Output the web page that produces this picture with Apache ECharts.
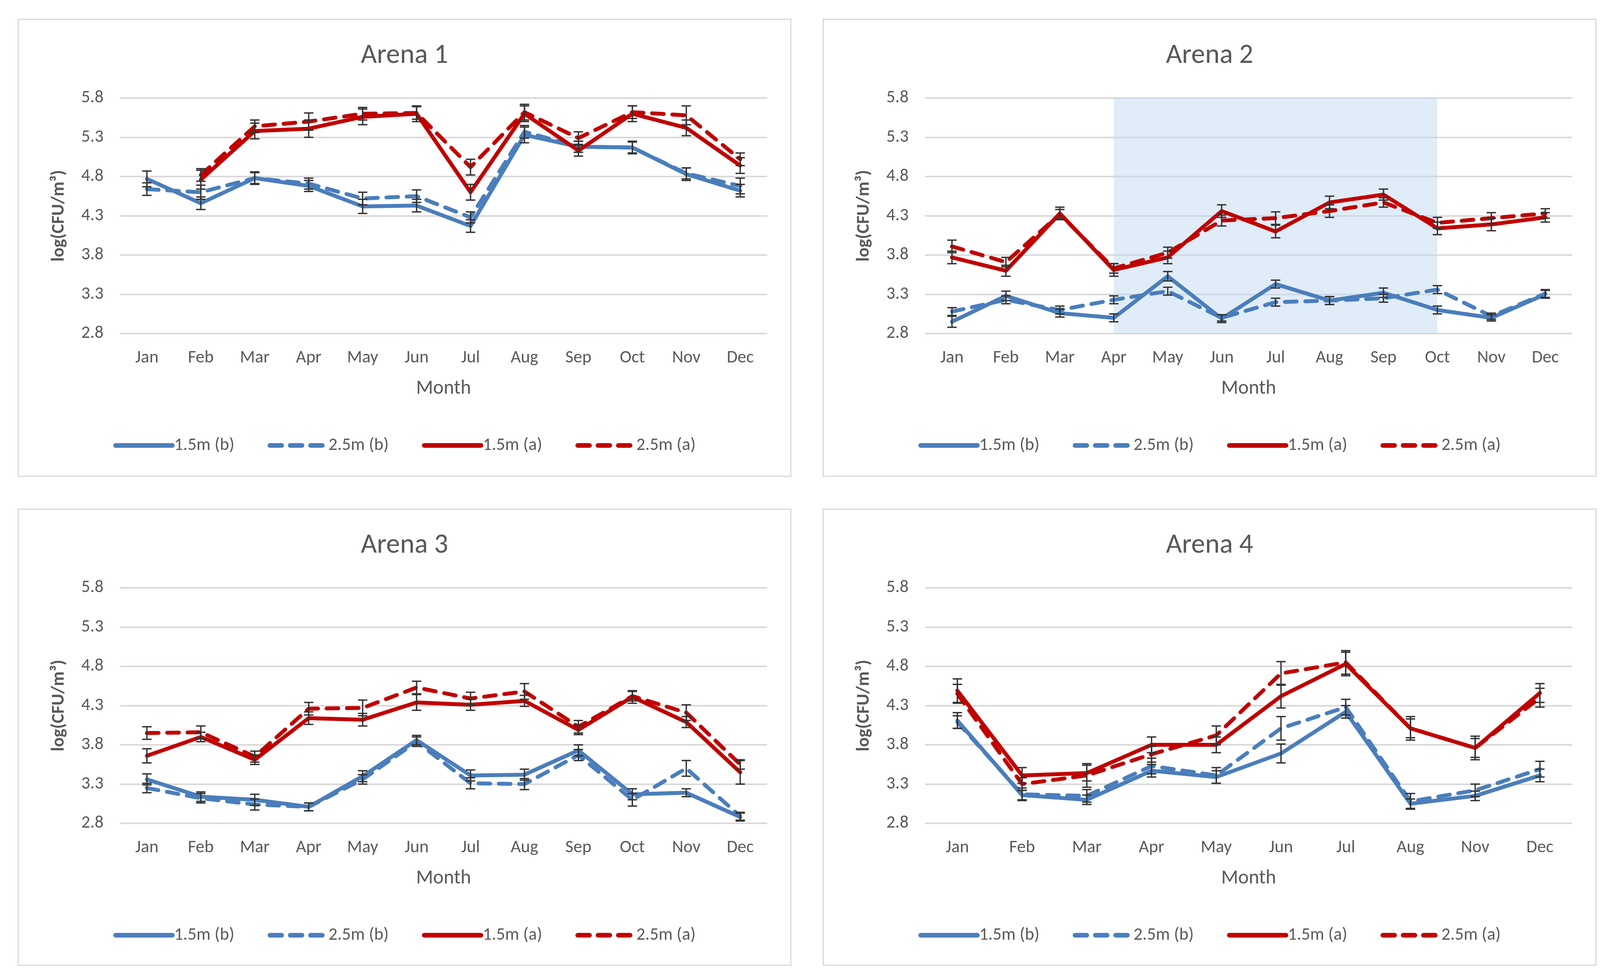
<!DOCTYPE html>
<html><head><meta charset="utf-8">
<script src="https://cdn.jsdelivr.net/npm/echarts@6/dist/echarts.min.js"></script>
<style>
html,body{margin:0;padding:0;background:#fff;width:4122px;height:2504px;overflow:hidden}
.panel{position:absolute;border:3px solid #d9d9d9;box-sizing:border-box;background:#fff}
.chart{position:absolute;left:0;top:0;width:100%;height:100%}
</style></head><body>
<div class="panel" style="left:45px;top:48px;width:1981px;height:1173px"><div class="chart" id="c1"></div></div>
<div class="panel" style="left:2106px;top:48px;width:1981px;height:1173px"><div class="chart" id="c2"></div></div>
<div class="panel" style="left:45px;top:1302px;width:1981px;height:1171px"><div class="chart" id="c3"></div></div>
<div class="panel" style="left:2106px;top:1302px;width:1981px;height:1171px"><div class="chart" id="c4"></div></div>
<script>
// ---- data ----
const months = ['Jan','Feb','Mar','Apr','May','Jun','Jul','Aug','Sep','Oct','Nov','Dec'];
const months4 = ['Jan','Feb','Mar','Apr','May','Jun','Jul','Aug','Nov','Dec'];
const seriesNames = ['1.5m (b)','2.5m (b)','1.5m (a)','2.5m (a)'];
const yMin = 2.8, yMax = 5.8, yStep = 0.5;

// Arena 1
const a1_b15 = [4.77,4.46,4.78,4.68,4.42,4.43,4.17,5.33,5.18,5.17,4.83,4.62];
const a1_b25 = [4.64,4.60,4.78,4.71,4.52,4.55,4.28,5.37,5.18,5.17,4.84,4.68];
const a1_a15 = [null,4.76,5.38,5.41,5.56,5.60,4.60,5.60,5.13,5.60,5.42,4.94];
const a1_a25 = [null,4.82,5.44,5.50,5.60,5.61,4.92,5.62,5.29,5.62,5.58,5.02];
const a1_b15e = [0.10,0.08,0.08,0.07,0.09,0.08,0.08,0.10,0.07,0.08,0.08,0.08];
const a1_b25e = [0.08,0.09,0.07,0.07,0.08,0.08,0.07,0.08,0.07,0.07,0.07,0.10];
const a1_a15e = [null,0.12,0.10,0.11,0.10,0.10,0.10,0.10,0.07,0.10,0.10,0.10];
const a1_a25e = [null,0.08,0.08,0.11,0.08,0.08,0.10,0.10,0.08,0.08,0.12,0.08];

// Arena 2
const a2_b15 = [2.95,3.28,3.06,3.00,3.53,2.99,3.43,3.22,3.32,3.10,3.00,3.30];
const a2_b25 = [3.08,3.23,3.10,3.23,3.34,3.00,3.20,3.22,3.25,3.36,3.02,3.31];
const a2_a15 = [3.77,3.60,4.33,3.61,3.77,4.36,4.10,4.47,4.57,4.14,4.19,4.28];
const a2_a25 = [3.91,3.71,4.32,3.63,3.83,4.24,4.27,4.36,4.47,4.21,4.27,4.33];
const a2_b15e = [0.07,0.06,0.05,0.05,0.06,0.05,0.05,0.05,0.06,0.05,0.04,0.05];
const a2_b25e = [0.05,0.05,0.05,0.05,0.05,0.04,0.05,0.05,0.05,0.05,0.04,0.05];
const a2_a15e = [0.08,0.07,0.08,0.08,0.08,0.08,0.08,0.08,0.07,0.08,0.08,0.06];
const a2_a25e = [0.08,0.06,0.06,0.06,0.07,0.07,0.08,0.08,0.06,0.07,0.07,0.06];
const a2_shadeFrom = 'Apr', a2_shadeTo = 'Oct';

// Arena 3
const a3_b15 = [3.36,3.14,3.10,3.01,3.40,3.86,3.41,3.42,3.73,3.17,3.19,2.88];
const a3_b25 = [3.25,3.12,3.04,3.01,3.36,3.84,3.31,3.30,3.67,3.10,3.50,2.89];
const a3_a15 = [3.66,3.90,3.61,4.14,4.12,4.34,4.31,4.36,3.99,4.41,4.09,3.45];
const a3_a25 = [3.95,3.96,3.65,4.26,4.27,4.53,4.39,4.48,4.03,4.42,4.21,3.55];
const a3_b15e = [0.07,0.06,0.07,0.05,0.07,0.06,0.07,0.07,0.07,0.07,0.05,0.05];
const a3_b25e = [0.06,0.06,0.07,0.05,0.06,0.06,0.07,0.07,0.07,0.08,0.10,0.05];
const a3_a15e = [0.09,0.06,0.06,0.08,0.08,0.10,0.07,0.07,0.06,0.08,0.07,0.15];
const a3_a25e = [0.08,0.08,0.07,0.08,0.10,0.08,0.08,0.10,0.08,0.06,0.10,0.06];

// Arena 4
const a4_b15 = [4.11,3.16,3.10,3.47,3.39,3.69,4.22,3.05,3.15,3.41];
const a4_b25 = [4.09,3.17,3.15,3.53,3.41,4.01,4.28,3.08,3.22,3.49];
const a4_a15 = [4.49,3.41,3.44,3.80,3.80,4.42,4.83,4.01,3.76,4.46];
const a4_a25 = [4.45,3.30,3.41,3.68,3.92,4.71,4.85,4.01,3.76,4.40];
const a4_b15e = [0.10,0.06,0.06,0.08,0.08,0.12,0.08,0.06,0.06,0.08];
const a4_b25e = [0.08,0.08,0.08,0.10,0.10,0.15,0.10,0.10,0.08,0.10];
const a4_a15e = [0.15,0.10,0.10,0.10,0.10,0.15,0.15,0.15,0.15,0.12];
const a4_a25e = [0.12,0.08,0.15,0.10,0.12,0.15,0.15,0.12,0.12,0.12];

// ---- styling ----
const FONT = 'Carlito, Lato, sans-serif';
const TXT = '#595959';
const BLUE = '#4A7EBB';
const RED = '#C00000';
const colors = [BLUE, BLUE, RED, RED];
const dashed = [false, true, false, true];

function errSeries(vals, errs) {
  const data = [];
  vals.forEach((v, i) => { if (v != null && errs[i] != null) data.push([i, v - errs[i], v + errs[i]]); });
  return {
    type: 'custom', silent: true, z: 5, encode: {x: 0, y: [1, 2]}, data,
    renderItem: (params, api) => {
      const x = api.value(0);
      const p1 = api.coord([x, api.value(1)]);
      const p2 = api.coord([x, api.value(2)]);
      const w = 12;
      const style = {stroke: '#333333', lineWidth: 3.5};
      return {type: 'group', children: [
        {type: 'line', shape: {x1: p1[0], y1: p1[1], x2: p2[0], y2: p2[1]}, style},
        {type: 'line', shape: {x1: p1[0] - w, y1: p1[1], x2: p1[0] + w, y2: p1[1]}, style},
        {type: 'line', shape: {x1: p2[0] - w, y1: p2[1], x2: p2[0] + w, y2: p2[1]}, style}
      ]};
    }
  };
}

function makeOption(title, cats, vals, errs, shade) {
  const series = vals.map((v, k) => ({
    name: seriesNames[k], type: 'line', data: v, symbol: 'none', showSymbol: false, z: 3,
    lineStyle: {color: colors[k], width: 10, type: dashed[k] ? [30, 22] : 'solid', cap: 'round', join: 'round'},
    itemStyle: {color: colors[k]}
  }));
  if (shade) {
    series[0].markArea = {
      silent: true,
      itemStyle: {color: 'rgba(190,215,238,0.48)'},
      data: [[{xAxis: shade[0], yAxis: yMax}, {xAxis: shade[1], yAxis: yMin}]]
    };
  }
  vals.forEach((v, k) => series.push(errSeries(v, errs[k])));
  return {
    animation: false,
    backgroundColor: '#fff',
    textStyle: {fontFamily: FONT},
    title: {text: title, left: 'center', top: 52,
      textStyle: {fontFamily: FONT, fontSize: 71, fontWeight: 'normal', color: TXT}},
    legend: {data: seriesNames, left: 'center', top: 1062, itemWidth: 145, itemHeight: 20, itemGap: 85,
      itemStyle: {opacity: 0, borderWidth: 0},
      lineStyle: {width: 12},
      textStyle: {fontFamily: FONT, fontSize: 45, color: TXT}},
    grid: {left: 259, top: 200, width: 1657, height: 603},
    xAxis: {type: 'category', data: cats, boundaryGap: true,
      axisLine: {show: false}, axisTick: {show: false},
      axisLabel: {fontFamily: FONT, fontSize: 45, color: TXT, margin: 40, interval: 0},
      name: 'Month', nameLocation: 'middle', nameGap: 116,
      nameTextStyle: {fontFamily: FONT, fontSize: 51, color: TXT}},
    yAxis: {type: 'value', min: yMin, max: yMax, interval: yStep,
      axisLine: {show: false}, axisTick: {show: false},
      axisLabel: {fontFamily: FONT, fontSize: 45, color: TXT, margin: 42, formatter: v => v.toFixed(1)},
      splitLine: {lineStyle: {color: '#d9d9d9', width: 4}},
      name: 'log(CFU/m³)', nameLocation: 'middle', nameGap: 133,
      nameTextStyle: {fontFamily: FONT, fontSize: 46, fontWeight: 'bold', color: TXT}},
    series
  };
}

const panels = [
  ['c1', 'Arena 1', months, [a1_b15, a1_b25, a1_a15, a1_a25], [a1_b15e, a1_b25e, a1_a15e, a1_a25e], null],
  ['c2', 'Arena 2', months, [a2_b15, a2_b25, a2_a15, a2_a25], [a2_b15e, a2_b25e, a2_a15e, a2_a25e], [a2_shadeFrom, a2_shadeTo]],
  ['c3', 'Arena 3', months, [a3_b15, a3_b25, a3_a15, a3_a25], [a3_b15e, a3_b25e, a3_a15e, a3_a25e], null],
  ['c4', 'Arena 4', months4, [a4_b15, a4_b25, a4_a15, a4_a25], [a4_b15e, a4_b25e, a4_a15e, a4_a25e], null]
];
panels.forEach(p => {
  const chart = echarts.init(document.getElementById(p[0]));
  chart.setOption(makeOption(p[1], p[2], p[3], p[4], p[5]));
});
</script>
</body></html>
